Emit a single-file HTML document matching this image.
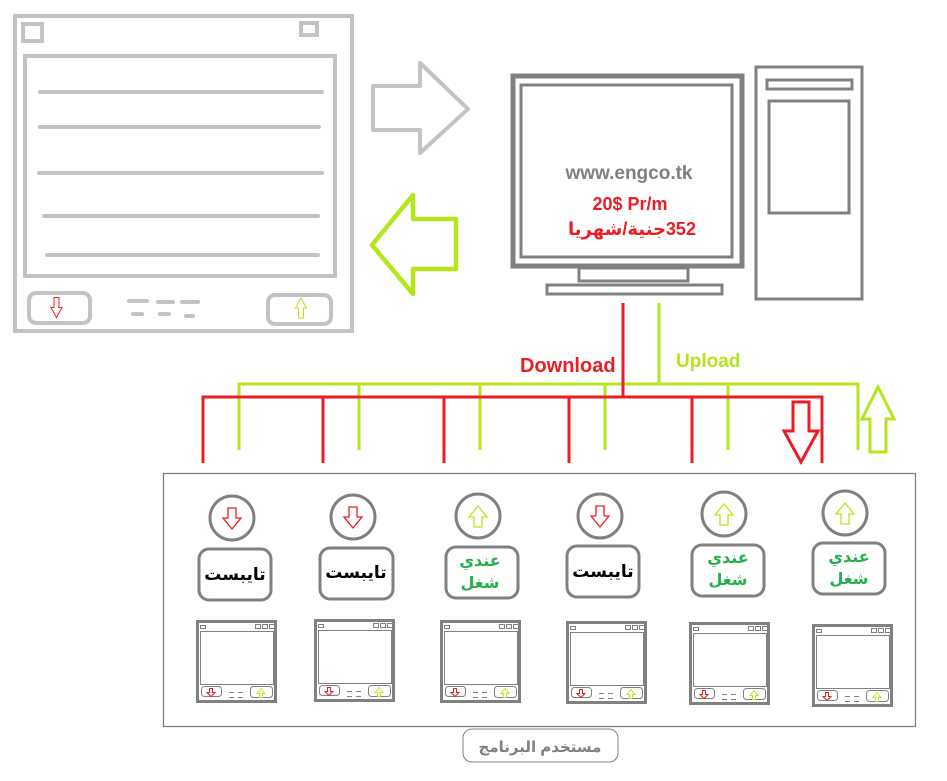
<!DOCTYPE html>
<html><head><meta charset="utf-8"><style>
html,body{margin:0;padding:0;background:#fff;width:947px;height:781px;overflow:hidden}
svg{display:block}
</style></head><body>
<svg width="947" height="781" viewBox="0 0 947 781" xmlns="http://www.w3.org/2000/svg">
<defs>
<g id="mw">
 <rect x="1.5" y="1.5" width="78" height="80" fill="#fff" stroke="#808080" stroke-width="3"/>
 <rect x="4.5" y="5.5" width="5" height="3" fill="none" stroke="#808080" stroke-width="1"/>
 <rect x="59.5" y="4.5" width="5" height="4" fill="none" stroke="#808080" stroke-width="1"/>
 <rect x="66.5" y="4.5" width="5" height="4" fill="none" stroke="#808080" stroke-width="1"/>
 <rect x="73.5" y="4.5" width="5" height="4" fill="none" stroke="#808080" stroke-width="1"/>
 <rect x="4.5" y="11.5" width="73" height="53" fill="none" stroke="#808080" stroke-width="1"/>
 <rect x="5.5" y="66.5" width="20" height="10" rx="3" fill="none" stroke="#808080" stroke-width="1"/>
 <rect x="54.5" y="66.5" width="22" height="11" rx="3" fill="none" stroke="#808080" stroke-width="1"/>
 <path d="M13.5 68.5h3v4h2.5l-4 4l-4-4h2.5z" fill="none" stroke="#ed1c24" stroke-width="1"/>
 <path d="M63.5 77.5h3v-4h2.5l-4-5l-4 5h2.5z" fill="none" stroke="#b5e61d" stroke-width="1"/>
 <path d="M33 72.5h5M42 72.5h5M33 77.5h5M42 77.5h5" stroke="#808080" stroke-width="1"/>
</g>
<g id="dn"><path d="M-4 -11h8v10h5l-9 11l-9-11h5z" fill="none" stroke="#ed1c24" stroke-width="1.3"/></g>
<g id="up"><path d="M-4 11h8v-10h5l-9-11l-9 11h5z" fill="none" stroke="#b5e61d" stroke-width="1.3"/></g>
</defs>

<!-- top-left window -->
<g stroke="#c3c3c3" fill="none">
 <rect x="15" y="16" width="337" height="315" stroke-width="4"/>
 <rect x="23" y="24" width="19" height="17" stroke-width="4"/>
 <rect x="301" y="23" width="16" height="12" stroke-width="4"/>
 <rect x="25" y="56" width="310" height="220" stroke-width="4"/>
 <g stroke-width="4" stroke-linecap="round">
  <line x1="40" y1="92" x2="322" y2="92"/>
  <line x1="40" y1="127" x2="319" y2="127"/>
  <line x1="39" y1="173" x2="322" y2="173"/>
  <line x1="44" y1="216" x2="318" y2="216"/>
  <line x1="47" y1="255" x2="318" y2="255"/>
  <line x1="129" y1="301" x2="147" y2="301"/>
  <line x1="158" y1="302" x2="173" y2="302"/>
  <line x1="182" y1="302" x2="198" y2="302"/>
  <line x1="133" y1="314" x2="142" y2="314"/>
  <line x1="160" y1="314" x2="169" y2="314"/>
  <line x1="186" y1="316" x2="193" y2="316"/>
 </g>
 <rect x="29" y="293" width="61" height="30" rx="7" stroke-width="4"/>
 <rect x="268" y="295" width="63" height="29" rx="7" stroke-width="4"/>
</g>
<path d="M54 297.5h5v10h3l-5.5 10l-5.5-10h3z" fill="none" stroke="#ed1c24" stroke-width="1"/>
<path d="M298.5 318h5v-10h3l-5.5-10l-5.5 10h3z" fill="none" stroke="#b5e61d" stroke-width="1"/>

<!-- big arrows -->
<path d="M373 86h47v-23l48 46l-48 44v-23h-47z" fill="none" stroke="#c3c3c3" stroke-width="4" stroke-linejoin="round"/>
<path d="M456 219h-43v-24l-41 50l41 49v-25h43z" fill="none" stroke="#b5e61d" stroke-width="4.5" stroke-linejoin="round"/>

<!-- computer -->
<g stroke="#808080" fill="none">
 <rect x="512.5" y="75.5" width="230" height="131.5" stroke-width="0"/>
 <rect x="513" y="76" width="229" height="190" stroke-width="5"/>
 <rect x="521" y="85" width="211" height="172" stroke-width="3"/>
 <rect x="579" y="268" width="109" height="13" stroke-width="3"/>
 <rect x="547" y="285" width="175" height="9" stroke-width="3"/>
 <rect x="756" y="67" width="106" height="232" stroke-width="3"/>
 <rect x="767" y="80" width="85" height="9" stroke-width="3"/>
 <rect x="769" y="101" width="80" height="112" stroke-width="3"/>
</g>
<text x="629" y="179" text-anchor="middle" font-family="Liberation Sans, sans-serif" font-weight="bold" font-size="19" fill="#808080">www.engco.tk</text>
<text x="630" y="210" text-anchor="middle" font-family="Liberation Sans, sans-serif" font-weight="bold" font-size="18" fill="#ed1c24">20$ Pr/m</text>
<text x="632" y="235" text-anchor="middle" font-family="Liberation Sans, 'DejaVu Sans', sans-serif" font-weight="bold" font-size="18" fill="#ed1c24" direction="rtl" unicode-bidi="plaintext">352جنية/شهريا</text>

<!-- wiring -->
<g fill="none" stroke-width="3">
 <path d="M659 303V384M239 450V384H858V450M359 384V450M480 384V450M605 384V450M728 384V450" stroke="#b5e61d"/>
 <path d="M623 303V397M203 463V397H822V463M323 397V463M444 397V463M569 397V463M692 397V463" stroke="#ed1c24"/>
</g>
<text x="520" y="372" font-family="Liberation Sans, sans-serif" font-weight="bold" font-size="20" fill="#ed1c24">Download</text>
<text x="676" y="367" font-family="Liberation Sans, sans-serif" font-weight="bold" font-size="19" fill="#b5e61d">Upload</text>
<path d="M793 402h16v29h9l-17 31l-17-31h9z" fill="none" stroke="#ed1c24" stroke-width="3"/>
<path d="M870 452h16v-33h8l-16-32l-16 32h8z" fill="none" stroke="#b5e61d" stroke-width="3"/>

<!-- big box -->
<rect x="163.5" y="473.5" width="752" height="253" fill="none" stroke="#808080" stroke-width="1.3"/>

<g stroke="#808080" stroke-width="3" fill="#fff">
 <circle cx="232" cy="518" r="22"/><circle cx="353" cy="517" r="22"/><circle cx="478" cy="516" r="22"/>
 <circle cx="600" cy="516" r="22"/><circle cx="724" cy="514" r="22"/><circle cx="845" cy="513" r="22"/>
 <rect x="199" y="549" width="72" height="51" rx="10"/>
 <rect x="320" y="548" width="73" height="51" rx="10"/>
 <rect x="446" y="547" width="72" height="51" rx="10"/>
 <rect x="567" y="546" width="72" height="51" rx="10"/>
 <rect x="692" y="545" width="72" height="51" rx="10"/>
 <rect x="813" y="543" width="72" height="51" rx="10"/>
</g>
<use href="#dn" x="232" y="519"/><use href="#dn" x="353" y="518"/><use href="#up" x="478" y="516"/>
<use href="#dn" x="600" y="517"/><use href="#up" x="724" y="514"/><use href="#up" x="845" y="513"/>

<g font-family="Liberation Sans, 'DejaVu Sans', sans-serif" font-weight="bold" text-anchor="middle">
 <text x="235" y="580" font-size="17" fill="#000">تايبست</text>
 <text x="356" y="578" font-size="17" fill="#000">تايبست</text>
 <text x="603" y="577" font-size="17" fill="#000">تايبست</text>
 <g font-size="16" fill="#22b14c">
  <text x="480" y="566">عندي</text><text x="480" y="588">شغل</text>
  <text x="728" y="563">عندي</text><text x="728" y="585">شغل</text>
  <text x="849" y="562">عندي</text><text x="849" y="584">شغل</text>
 </g>
</g>

<use href="#mw" x="196" y="620"/>
<use href="#mw" x="314" y="619"/>
<use href="#mw" x="440" y="620"/>
<use href="#mw" x="566" y="621"/>
<use href="#mw" x="689" y="622"/>
<use href="#mw" x="812" y="624"/>

<rect x="463" y="729" width="155" height="33" rx="9" fill="#fff" stroke="#808080" stroke-width="1"/>
<text x="540" y="752" text-anchor="middle" font-family="Liberation Sans, 'DejaVu Sans', sans-serif" font-weight="bold" font-size="15" fill="#808080">مستخدم البرنامج</text>
</svg>
</body></html>
